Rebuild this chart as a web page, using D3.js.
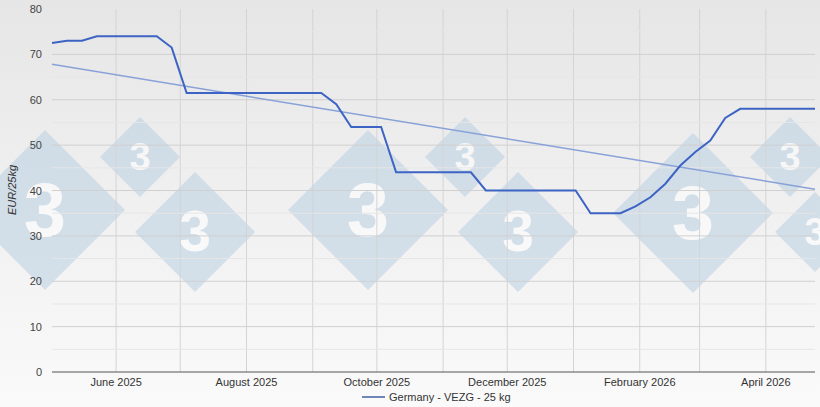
<!DOCTYPE html>
<html><head><meta charset="utf-8">
<script src="https://cdn.jsdelivr.net/npm/d3@7"></script>
<style>body{margin:0;font-family:"Liberation Sans",Arial,sans-serif}</style>
</head><body><svg id="chart" width="820" height="407"></svg>
<script>
// weekly price breakpoints, EUR/25kg
const dates = ["2025-05-02","2025-05-09","2025-05-16","2025-05-23","2025-06-20","2025-06-27","2025-07-04",
  "2025-09-05","2025-09-12","2025-09-19","2025-10-03","2025-10-10","2025-11-14","2025-11-21",
  "2026-01-02","2026-01-09","2026-01-23","2026-01-30","2026-02-06","2026-02-13","2026-02-20",
  "2026-02-27","2026-03-06","2026-03-13","2026-03-20","2026-04-24"];
const values = [72.5,73,73,74,74,71.5,61.5, 61.5,59,54,54,44,44,40, 40,35,35,36.5,38.5,41.5,45.5, 48.5,51,56,58,58];
const trendDates = ["2025-05-02","2026-04-24"];
const trendValues = [67.8,40.3];
const tickLabels = ["June 2025","August 2025","October 2025","December 2025","February 2026","April 2026"];
const yTicks = [0,10,20,30,40,50,60,70,80];

const parse = d3.timeParse("%Y-%m-%d");
const W = 820, H = 407, m = {l:52, r:5, t:9, b:35};
const svg = d3.select("#chart");
const defs = svg.append("defs");
const g0 = defs.append("linearGradient").attr("id","bg").attr("x1",0).attr("x2",0).attr("y1",0).attr("y2",1);
g0.append("stop").attr("offset","0").attr("stop-color","#e6e6e6");
g0.append("stop").attr("offset","1").attr("stop-color","#fafafa");
svg.append("rect").attr("width",W).attr("height",H).attr("fill","url(#bg)");

const x = d3.scaleTime().domain([parse("2025-05-02"), parse("2026-04-24")]).range([m.l, W-m.r]);
const y = d3.scaleLinear().domain([0,80]).range([H-m.b, m.t]);

// watermark logos
const marks = [[45,210,80],[140,157,40],[195,232,60],[368,210,80],[465,157,40],[518,232,60],[693,213,80],[790,157,40],[815,232,40]];
const wm = svg.append("g").attr("opacity",0.55);
marks.forEach(([cx,cy,r]) => {
  wm.append("path").attr("d",`M${cx},${cy-r}L${cx+r},${cy}L${cx},${cy+r}L${cx-r},${cy}Z`).attr("fill","#b9d0e2");
  wm.append("text").attr("x",cx).attr("y",cy+r*0.32).attr("text-anchor","middle")
    .attr("font-size",r*0.95).attr("font-weight","bold").attr("fill","#fff").text("3");
});

// grid
const months = d3.timeMonth.range(parse("2025-06-01"), parse("2026-04-24"));
svg.append("g").selectAll("line").data(months).join("line")
  .attr("x1",d=>x(d)).attr("x2",d=>x(d)).attr("y1",m.t).attr("y2",H-m.b)
  .attr("stroke","#d4d4d4");
svg.append("g").selectAll("line").data(d3.range(5,80,5)).join("line")
  .attr("x1",m.l).attr("x2",W-m.r).attr("y1",d=>y(d)).attr("y2",d=>y(d))
  .attr("stroke",d=>d%10===0?"#d0d0d0":"#e6e6e6");
svg.append("line").attr("x1",m.l).attr("x2",W-m.r).attr("y1",y(0)).attr("y2",y(0)).attr("stroke","#555");

svg.append("g").selectAll("text").data(yTicks).join("text")
  .attr("x",42).attr("y",d=>y(d)+4).attr("text-anchor","end").attr("font-size",11).attr("fill","#444").text(d=>d);
const labelMonths = months.filter((d,i)=>i%2===0);
svg.append("g").selectAll("text").data(labelMonths).join("text")
  .attr("x",d=>x(d)).attr("y",386).attr("text-anchor","middle").attr("font-size",11).attr("fill","#333")
  .text((d,i)=>tickLabels[i]);
svg.append("text").attr("transform","translate(16,190) rotate(-90)").attr("text-anchor","middle")
  .attr("font-size",11).attr("font-style","italic").attr("fill","#333").text("EUR/25kg");

const line = d3.line().x(d=>x(d[0])).y(d=>y(d[1]));
svg.append("path").datum(trendDates.map((d,i)=>[parse(d),trendValues[i]])).attr("d",line)
  .attr("fill","none").attr("stroke","#88a2d8").attr("stroke-width",1.5);
svg.append("path").datum(dates.map((d,i)=>[parse(d),values[i]])).attr("d",line)
  .attr("fill","none").attr("stroke","#3d64c4").attr("stroke-width",2);

svg.append("line").attr("x1",362).attr("x2",385).attr("y1",397).attr("y2",397).attr("stroke","#6f86b8").attr("stroke-width",2);
svg.append("text").attr("x",389).attr("y",401).attr("font-size",11).attr("fill","#333").text("Germany - VEZG - 25 kg");
</script></body></html>
